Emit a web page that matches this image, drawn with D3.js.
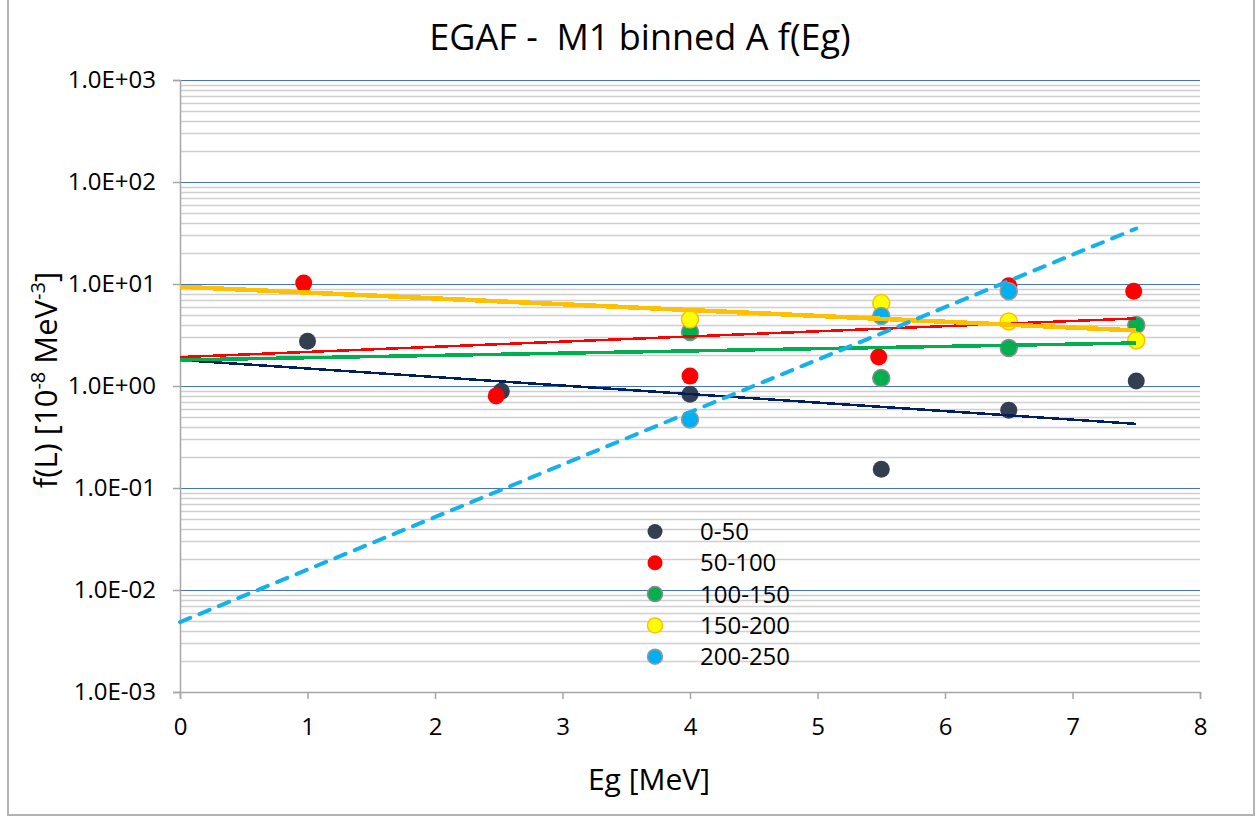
<!DOCTYPE html>
<html>
<head>
<meta charset="utf-8">
<script src="https://cdn.jsdelivr.net/npm/d3@7"></script>
<style>
  body { margin: 0; background: #fff; }
  svg { display: block; font-family: "Open Sans", Lato, sans-serif; }
</style>
</head>
<body>
<svg id="chart" width="1258" height="817"></svg>
<script>
// series bins (legend order)
var bins = ["0-50", "50-100", "100-150", "150-200", "200-250"];

// scatter points, Eg [MeV] and f(L)
var eg050 = [1.0, 2.52, 4.0, 5.5, 6.5, 7.5];
var f050 = [2.75, 0.89, 0.83, 0.153, 0.58, 1.12];
var eg100 = [0.97, 2.48, 4.0, 5.48, 6.5, 7.48];
var f100 = [10.2, 0.80, 1.25, 1.92, 9.6, 8.5];
var eg150 = [4.0, 5.5, 6.5, 7.5];
var f150 = [3.38, 1.2, 2.36, 3.96];
var eg200 = [4.0, 5.5, 6.5, 7.5];
var f200 = [4.5, 6.5, 4.3, 2.8];
var eg250 = [4.0, 5.5, 6.5];
var f250 = [0.47, 4.86, 8.5];

// fitted curves (end points, straight on log axis)
var lineEg = [0, 7.5];
var fit050 = [1.8, 0.425];
var fit100 = [1.92, 4.6];
var fit150 = [1.8, 2.64];
var fit200 = [9.4, 3.5];
var fit250 = [0.00485, 35];

var yTicks = [1e-3, 1e-2, 1e-1, 1e0, 1e1, 1e2, 1e3];
var yTickLabels = ["1.0E-03", "1.0E-02", "1.0E-01", "1.0E+00", "1.0E+01", "1.0E+02", "1.0E+03"];
var xTicks = [0, 1, 2, 3, 4, 5, 6, 7, 8];

var svg = d3.select("#chart");
var margin = {top: 80, right: 58, bottom: 125, left: 180},
    width = 1258 - margin.left - margin.right,
    height = 817 - margin.top - margin.bottom;

// outer chart frame
svg.append("path")
  .attr("d", "M8,0V815H1254V0")
  .attr("fill", "none")
  .attr("stroke", "#b3b3b3")
  .attr("stroke-width", 2);

var g = svg.append("g").attr("transform", "translate(" + margin.left + "," + margin.top + ")");

var x = d3.scaleLinear().domain([0, 8]).range([0, width]);
var y = d3.scaleLog().domain([1e-3, 1e3]).range([height, 0]);

// minor gridlines 2..9 in each decade
var minor = [];
yTicks.slice(0, -1).forEach(function(t) {
  for (var k = 2; k < 10; k++) minor.push(t * k);
});
g.append("g").selectAll("line")
  .data(minor)
  .enter().append("line")
  .attr("x1", 0).attr("x2", width)
  .attr("y1", function(d) { return Math.round(y(d)) + 0.5; })
  .attr("y2", function(d) { return Math.round(y(d)) + 0.5; })
  .attr("stroke", "#cfcfcf")
  .attr("stroke-width", 1.3);

// major gridlines
g.append("g").selectAll("line")
  .data(yTicks.slice(1))
  .enter().append("line")
  .attr("x1", 0).attr("x2", width)
  .attr("y1", function(d) { return Math.round(y(d)) + 0.5; })
  .attr("y2", function(d) { return Math.round(y(d)) + 0.5; })
  .attr("stroke", "#4472c4")
  .attr("stroke-width", 1.2);

// axes
var xAxis = g.append("g")
  .attr("transform", "translate(0," + height + ")")
  .call(d3.axisBottom(x).tickValues(xTicks).tickSize(7).tickPadding(19).tickFormat(d3.format("d")));
var yAxis = g.append("g")
  .call(d3.axisLeft(y).tickValues(yTicks).tickSize(7).tickPadding(17)
    .tickFormat(function(d, i) { return yTickLabels[i]; }));
[xAxis, yAxis].forEach(function(a) {
  a.select(".domain").attr("stroke", "#a6a6a6").attr("stroke-width", 1.5);
  a.selectAll(".tick line").attr("stroke", "#a6a6a6").attr("stroke-width", 1.5);
  a.selectAll(".tick text").attr("fill", "#000").style("font-size", "24px").style("font-family", "'Open Sans', sans-serif");
});

// scatter series
var pointSets = [
  {eg: eg050, f: f050, fill: "#333f50", stroke: "none"},
  {eg: eg100, f: f100, fill: "#ff0000", stroke: "none"},
  {eg: eg150, f: f150, fill: "#00b050", stroke: "#8c8c8c"},
  {eg: eg200, f: f200, fill: "#ffff00", stroke: "#ffc000"},
  {eg: eg250, f: f250, fill: "#00b0f0", stroke: "#9a9a9a"}
];
pointSets.forEach(function(s) {
  g.append("g").selectAll("circle")
    .data(s.eg.map(function(e, i) { return {e: e, v: s.f[i]}; }))
    .enter().append("circle")
    .attr("cx", function(d) { return x(d.e); })
    .attr("cy", function(d) { return y(d.v); })
    .attr("r", 8.5)
    .attr("fill", s.fill)
    .attr("stroke", s.stroke)
    .attr("stroke-width", 1.5);
});

// fitted lines
var line = d3.line()
  .x(function(d) { return x(d.e); })
  .y(function(d) { return y(d.v); });
var fits = [
  {f: fit050, color: "#002060", w: 2.5, dash: null},
  {f: fit100, color: "#ff0000", w: 2.5, dash: null},
  {f: fit150, color: "#00b050", w: 3.5, dash: null},
  {f: fit200, color: "#ffc000", w: 4.5, dash: null},
  {f: fit250, color: "#14b1ec", w: 4, dash: "11,10"}
];
fits.forEach(function(s) {
  g.append("path")
    .attr("d", line(lineEg.map(function(e, i) { return {e: e, v: s.f[i]}; })))
    .attr("fill", "none")
    .attr("stroke", s.color)
    .attr("stroke-width", s.w)
    .attr("stroke-linecap", s.dash ? "round" : "butt")
    .attr("stroke-dasharray", s.dash)
    .attr("shape-rendering", s.dash ? null : "crispEdges");
});

// legend
var legend = svg.selectAll(".legend")
  .data(bins)
  .enter().append("g")
  .attr("class", "legend")
  .attr("transform", function(d, i) { return "translate(655," + (531.5 + i * 31.3) + ")"; });
legend.append("circle")
  .attr("r", 7.5)
  .attr("fill", function(d, i) { return pointSets[i].fill; })
  .attr("stroke", function(d, i) { return pointSets[i].stroke; })
  .attr("stroke-width", 1.5);
legend.append("text")
  .attr("x", 45)
  .attr("y", 8.5)
  .style("font-size", "24px")
  .text(function(d) { return d; });

// titles
svg.append("text")
  .attr("x", 640).attr("y", 50)
  .attr("text-anchor", "middle")
  .attr("xml:space", "preserve")
  .style("white-space", "pre")
  .style("font-size", "36px")
  .text("EGAF -  M1 binned A f(Eg)");
svg.append("text")
  .attr("x", 649).attr("y", 790)
  .attr("text-anchor", "middle")
  .style("font-size", "30px")
  .text("Eg [MeV]");
var yt = svg.append("text")
  .attr("transform", "translate(57,380) rotate(-90)")
  .attr("text-anchor", "middle")
  .style("font-size", "31px");
yt.append("tspan").text("f(L) [10");
yt.append("tspan").attr("dy", -12).style("font-size", "20px").text("-8");
yt.append("tspan").attr("dy", 12).text(" MeV");
yt.append("tspan").attr("dy", -12).style("font-size", "20px").text("-3");
yt.append("tspan").attr("dy", 12).text("]");
</script>
</body>
</html>
